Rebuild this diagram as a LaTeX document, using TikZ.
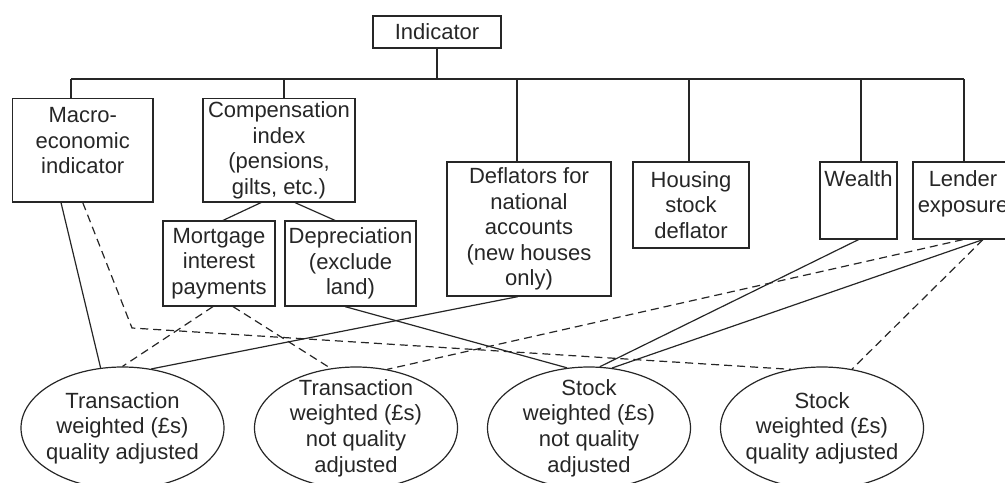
\documentclass[tikz,border=0pt]{standalone}
\usepackage{fontspec}
\setmainfont{Liberation Sans}
\usetikzlibrary{shapes.geometric,calc}
\definecolor{ink}{HTML}{262626}
\begin{document}
\begin{tikzpicture}[x=0.5pt,y=-0.5pt,
  every node/.style={font=\fontsize{11pt}{12.8pt}\selectfont, text=ink},
  box/.style={draw=ink, line width=0.6pt, inner sep=0pt, align=center},
  lbl/.style={inner sep=0pt, align=center},
  oval/.style={ellipse, draw=ink, line width=0.6pt, inner sep=0pt, minimum width=101.5pt, minimum height=61pt},
  link/.style={draw=ink, line width=0.6pt},
  dlink/.style={link, dash pattern=on 4pt off 2.5pt}]
\useasboundingbox (0,0) rectangle (1005,482);
\clip (0,0) rectangle (1005,482);

% boxes
\node[box, minimum width=64pt, minimum height=16pt] (ind) at (437,32) {Indicator};
\node[box, minimum width=70.25pt, minimum height=51.75pt] (macro) at (82.75,150.25) {};
\node[lbl, anchor=north] (macrot) at ($(macro.north)+(0,9)$) {Macro-\\economic\\indicator};
\node[box, minimum width=76pt, minimum height=51.75pt] (comp) at (279,150.25) {Compensation\\index\\(pensions,\\gilts, etc.)};
\node[box, minimum width=56pt, minimum height=42.5pt] (mort) at (219,263.5) {Mortgage\\interest\\payments};
\node[box, minimum width=65.5pt, minimum height=42.5pt] (dep) at (350.5,263.5) {Depreciation\\(exclude\\land)};
\node[box, minimum width=82pt, minimum height=67pt] (defl) at (529,229) {Deflators for\\national\\accounts\\(new houses\\only)};
\node[box, minimum width=58pt, minimum height=43pt] (hous) at (691,205) {Housing\\stock\\deflator};
\node[box, minimum width=38.5pt, minimum height=38.5pt] (wealth) at (858.5,200.5) {};
\node[lbl, anchor=north] (wealtht) at ($(wealth.north)+(0,9)$) {Wealth};
\node[box, minimum width=50pt, minimum height=38.5pt] (lend) at (963,200.5) {};
\node[lbl, anchor=north] (lendt) at ($(lend.north)+(0,9)$) {Lender\\exposure};

% ellipses
\node[oval] (e1) at (122.5,428) {};
\node[lbl] (e1t) at (e1.center) {Transaction\\weighted (£s)\\quality adjusted};
\node[oval] (e2) at (356,428) {};
\node[lbl] (e2t) at (e2.center) {Transaction\\weighted (£s)\\not quality\\adjusted};
\node[oval] (e3) at (589,428) {};
\node[lbl] (e3t) at (e3.center) {Stock\\weighted (£s)\\not quality\\adjusted};
\node[oval] (e4) at (822,428) {};
\node[lbl] (e4t) at (e4.center) {Stock\\weighted (£s)\\quality adjusted};

% tree
\coordinate (busL) at (71,79);
\coordinate (busR) at (964,79);
\coordinate (dcomp) at (284,79);
\coordinate (ddefl) at (517,79);
\coordinate (dhous) at (689,79);
\coordinate (dwealth) at (861,79);
\draw[link] (ind.south) -- (ind.south |- busL);
\draw[link] (busL) -- (busR);
\draw[link] (busL) -- (busL |- macro.north);
\draw[link] (dcomp) -- (dcomp |- comp.north);
\draw[link] (ddefl) -- (ddefl |- defl.north);
\draw[link] (dhous) -- (dhous |- hous.north);
\draw[link] (dwealth) -- (dwealth |- wealth.north);
\draw[link] (busR) -- (busR |- lend.north);

\draw[link] ($(comp.south)+(-18,0)$) -- ($(mort.north)+(4,0)$);
\draw[link] ($(comp.south)+(16,0)$) -- ($(dep.north)+(-15.5,0)$);

% lower connectors
\coordinate (kink) at (132,328);
\draw[link] ($(macro.south)+(-21.75,0)$) -- (e1.110);
\draw[dlink] (macro.south) -- (kink) -- (e4.118);
\draw[dlink] ($(mort.south)+(-6,0)$) -- (e1.90);
\draw[dlink] ($(mort.south)+(14,0)$) -- (e2.113);
\draw[link] ($(dep.south)+(-5.5,0)$) -- (e3.110);
\draw[link] ($(defl.south)+(-11,0)$) -- (e1.64);
\draw[link] (wealth.south) -- (e3.80);
\draw[dlink] (lend.south) -- (e2.62);
\draw[link] ($(lend.south)+(20,0)$) -- (e3.69);
\draw[dlink] ($(lend.south)+(20,0)$) -- (e4.63);
\end{tikzpicture}
\end{document}
